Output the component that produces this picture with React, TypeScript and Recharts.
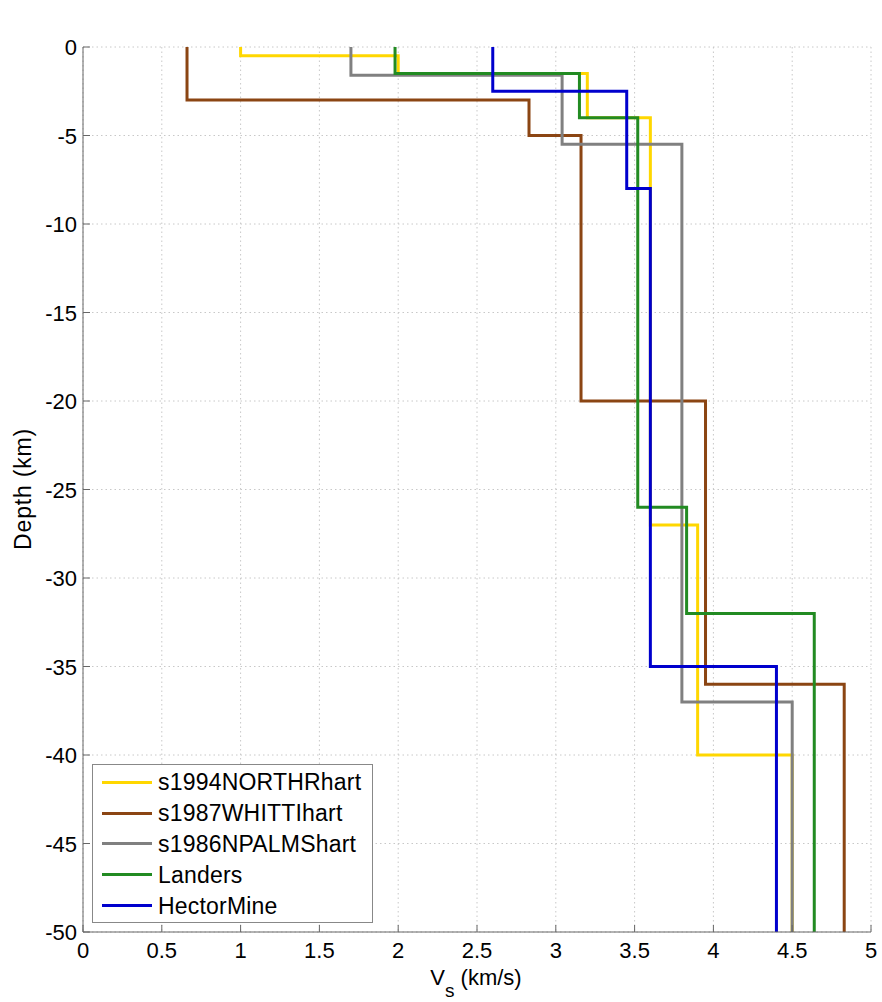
import { LineChart, Line, XAxis, YAxis, CartesianGrid, Label, Legend } from 'recharts';

const VS_TICKS = [0, 0.5, 1, 1.5, 2, 2.5, 3, 3.5, 4, 4.5, 5];
const DEPTH_TICKS = [-50, -45, -40, -35, -30, -25, -20, -15, -10, -5, 0];
const MAX_DEPTH = 50;

// layer shear velocity (km/s) and depth of each layer top (km)
const north1994Vs = [1.0, 2.0, 3.2, 3.6, 3.9, 4.5];
const north1994Top = [0, 0.5, 1.5, 4, 27, 40];
const whitti1987Vs = [0.66, 2.83, 3.16, 3.95, 4.83];
const whitti1987Top = [0, 3, 5, 20, 36];
const npalms1986Vs = [1.7, 3.04, 3.8, 4.5];
const npalms1986Top = [0, 1.6, 5.5, 37];
const landersVs = [1.98, 3.15, 3.52, 3.83, 4.64];
const landersTop = [0, 1.5, 4, 26, 32];
const hectorVs = [2.6, 3.45, 3.6, 4.4];
const hectorTop = [0, 2.5, 8, 35];

const MODELS = [
  { name: 's1994NORTHRhart', color: '#ffd700', vs: north1994Vs, tops: north1994Top },
  { name: 's1987WHITTIhart', color: '#8b4513', vs: whitti1987Vs, tops: whitti1987Top },
  { name: 's1986NPALMShart', color: '#808080', vs: npalms1986Vs, tops: npalms1986Top },
  { name: 'Landers', color: '#228b22', vs: landersVs, tops: landersTop },
  { name: 'HectorMine', color: '#0000cd', vs: hectorVs, tops: hectorTop },
];

// turn a layered model into the corner points of a step profile
function toSteps(vs: number[], tops: number[]) {
  const pts: { vs: number; depth: number }[] = [];
  vs.forEach((v, i) => {
    const bottom = i + 1 < tops.length ? tops[i + 1] : MAX_DEPTH;
    pts.push({ vs: v, depth: -tops[i] });
    pts.push({ vs: v, depth: -bottom });
  });
  return pts;
}

const FONT = '"Liberation Sans", Arial, Helvetica, sans-serif';
const AXIS = '#666';

const XTick = (p: any) => (
  <text x={p.x} y={958} textAnchor="middle" fontFamily={FONT} fontSize={22} fill="#000">
    {p.payload.value}
  </text>
);

const YTick = (p: any) => (
  <text x={77} y={p.y + 8} textAnchor="end" fontFamily={FONT} fontSize={22} fill="#000">
    {p.payload.value}
  </text>
);

const ModelLegend = () => (
  <div
    style={{
      width: 281,
      height: 159,
      border: '1px solid #888',
      background: '#fff',
      boxSizing: 'border-box',
      paddingTop: 2,
      fontFamily: FONT,
      fontSize: 23,
    }}
  >
    {MODELS.map((m) => (
      <div key={m.name} style={{ display: 'flex', alignItems: 'center', height: 30.8 }}>
        <span style={{ display: 'inline-block', width: 50, height: 3, marginLeft: 9, background: m.color }} />
        <span style={{ marginLeft: 6, color: '#000', lineHeight: '30px', letterSpacing: 0.2 }}>{m.name}</span>
      </div>
    ))}
  </div>
);

export default function App() {
  return (
    <div style={{ position: 'absolute', left: 0, top: 0, width: 882, height: 1002, background: '#fff' }}>
      <LineChart width={882} height={1002} margin={{ top: 47, right: 11, bottom: 0, left: 0 }}>
        <CartesianGrid xAxisId="bottom" yAxisId="left" stroke="#c8c8c8" strokeDasharray="1.5 3" />
        <XAxis
          xAxisId="bottom"
          type="number"
          dataKey="vs"
          domain={[0, 5]}
          ticks={VS_TICKS}
          allowDataOverflow
          height={70}
          tick={<XTick />}
          tickSize={-7}
          stroke={AXIS}
          interval={0}
        >
          <Label
            content={() => (
              <text x={476} y={985} textAnchor="middle" fontFamily={FONT} fontSize={22} fill="#000">
                <tspan>V</tspan>
                <tspan dy={12} fontSize={19}>s</tspan>
                <tspan dy={-12}> (km/s)</tspan>
              </text>
            )}
          />
        </XAxis>
        <XAxis
          xAxisId="top"
          orientation="top"
          type="number"
          domain={[0, 5]}
          ticks={VS_TICKS}
          allowDataOverflow
          height={0}
          tickFormatter={() => ''}
          tickSize={-7}
          stroke={AXIS}
          interval={0}
        >
          <Label
            content={() => (
              <text x={477} y={28} textAnchor="middle" fontFamily={FONT} fontSize={22} fill="#000">
                Southern CA Velocity Models
              </text>
            )}
          />
        </XAxis>
        <YAxis
          yAxisId="left"
          type="number"
          dataKey="depth"
          domain={[-50, 0]}
          ticks={DEPTH_TICKS}
          allowDataOverflow
          width={83}
          tick={<YTick />}
          tickSize={-7}
          stroke={AXIS}
          interval={0}
        >
          <Label
            content={() => (
              <text
                x={31}
                y={489}
                transform="rotate(-90 31 489)"
                textAnchor="middle"
                fontFamily={FONT}
                fontSize={23}
                letterSpacing={0.8}
                fill="#000"
              >
                Depth (km)
              </text>
            )}
          />
        </YAxis>
        <YAxis
          yAxisId="right"
          orientation="right"
          type="number"
          domain={[-50, 0]}
          ticks={DEPTH_TICKS}
          allowDataOverflow
          width={0}
          tickFormatter={() => ''}
          tickSize={-7}
          stroke={AXIS}
          interval={0}
        />
        {MODELS.map((m) => (
          <Line
            key={m.name}
            xAxisId="bottom"
            yAxisId="left"
            data={toSteps(m.vs, m.tops)}
            dataKey="depth"
            name={m.name}
            type="linear"
            stroke={m.color}
            strokeWidth={3}
            dot={false}
            activeDot={false}
            isAnimationActive={false}
          />
        ))}
        <Legend
          layout="vertical"
          align="center"
          verticalAlign="middle"
          content={() => <ModelLegend />}
          wrapperStyle={{ position: 'absolute', left: 92, top: 764, width: 281, height: 159 }}
        />
      </LineChart>
    </div>
  );
}
